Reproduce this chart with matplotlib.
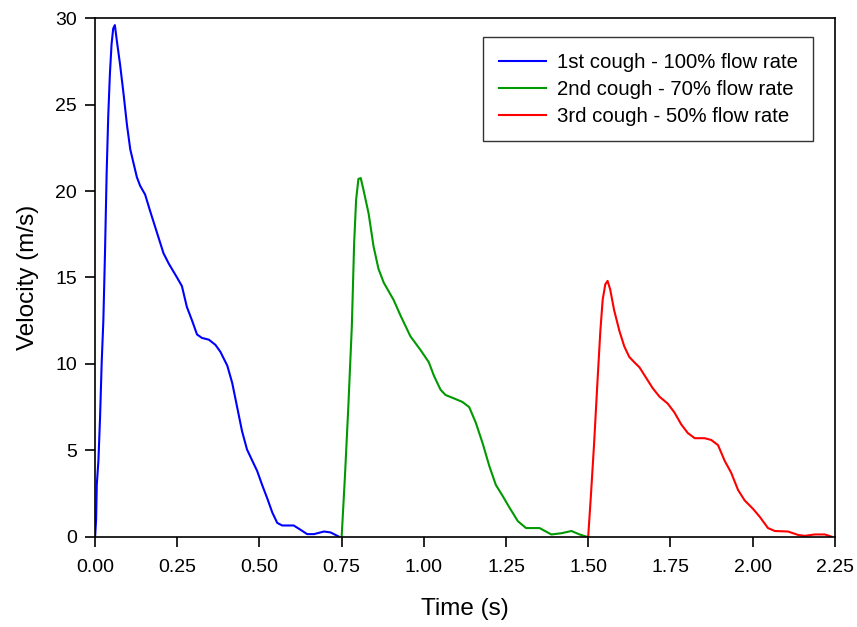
import matplotlib
matplotlib.use("Agg")
import matplotlib.pyplot as plt

plt.rcParams['font.family'] = ['Liberation Sans', 'DejaVu Sans']

# 1st cough - 100% flow rate
t1 = [0.0, 0.003, 0.005, 0.010, 0.015, 0.020, 0.025, 0.030, 0.035, 0.040, 0.045, 0.050,
      0.055, 0.060, 0.066, 0.076, 0.086, 0.097, 0.107, 0.117, 0.127, 0.137, 0.152, 0.168,
      0.188, 0.208, 0.224, 0.249, 0.264, 0.279, 0.295, 0.310, 0.325, 0.346, 0.366, 0.381,
      0.402, 0.417, 0.432, 0.447, 0.462, 0.478, 0.493, 0.508, 0.524, 0.539, 0.554, 0.569,
      0.604, 0.625, 0.645, 0.666, 0.696, 0.716, 0.742]
v1 = [0.0, 1.0, 3.0, 4.4, 6.9, 10.1, 12.5, 16.4, 21.0, 24.4, 26.8, 28.5,
      29.4, 29.6, 28.7, 27.3, 25.7, 23.8, 22.4, 21.6, 20.8, 20.3, 19.8, 18.8,
      17.6, 16.4, 15.8, 15.0, 14.5, 13.3, 12.5, 11.7, 11.5, 11.4, 11.1, 10.7,
      9.9, 8.9, 7.5, 6.1, 5.05, 4.4, 3.8, 3.0, 2.2, 1.4, 0.8, 0.65,
      0.65, 0.4, 0.15, 0.15, 0.3, 0.25, 0.0]

# 2nd cough - 70% flow rate
t2 = [0.750, 0.760, 0.770, 0.781, 0.788, 0.794, 0.801, 0.808, 0.816, 0.832, 0.847, 0.862,
      0.878, 0.893, 0.908, 0.929, 0.959, 0.990, 1.015, 1.031, 1.051, 1.066, 1.092, 1.117,
      1.138, 1.158, 1.179, 1.199, 1.219, 1.240, 1.260, 1.286, 1.311, 1.352, 1.388, 1.418,
      1.449, 1.474, 1.495]
v2 = [0.0, 3.5, 7.4, 12.2, 17.0, 19.5, 20.7, 20.75, 20.1, 18.7, 16.8, 15.5,
      14.7, 14.2, 13.7, 12.8, 11.6, 10.8, 10.1, 9.3, 8.5, 8.2, 8.0, 7.8,
      7.5, 6.6, 5.4, 4.1, 3.0, 2.35, 1.7, 0.9, 0.5, 0.5, 0.13, 0.2,
      0.33, 0.13, 0.0]

# 3rd cough - 50% flow rate
t3 = [1.500, 1.508, 1.518, 1.528, 1.537, 1.544, 1.552, 1.559, 1.567, 1.579, 1.595, 1.610,
      1.625, 1.640, 1.656, 1.676, 1.696, 1.717, 1.742, 1.762, 1.783, 1.803, 1.824, 1.854,
      1.874, 1.895, 1.915, 1.935, 1.956, 1.976, 2.002, 2.022, 2.047, 2.068, 2.108, 2.139,
      2.159, 2.189, 2.220, 2.241]
v3 = [0.0, 2.3, 5.4, 8.9, 11.9, 13.7, 14.6, 14.8, 14.3, 13.1, 11.9, 11.0,
      10.4, 10.1, 9.8, 9.2, 8.6, 8.1, 7.7, 7.2, 6.5, 6.0, 5.7, 5.7,
      5.6, 5.3, 4.4, 3.7, 2.7, 2.1, 1.6, 1.15, 0.5, 0.33, 0.3, 0.1,
      0.05, 0.13, 0.13, 0.0]

labels = ['1st cough - 100% flow rate', '2nd cough - 70% flow rate', '3rd cough - 50% flow rate']
colors = ['#0000ff', '#009900', '#ff0000']
x_ticks = [0.0, 0.25, 0.5, 0.75, 1.0, 1.25, 1.5, 1.75, 2.0, 2.25]
y_ticks = [0, 5, 10, 15, 20, 25, 30]

fig = plt.figure(figsize=(8.57, 6.27), dpi=100)
ax = fig.add_axes([0.111, 0.144, 0.863, 0.827])

for t, v, lab, c in zip([t1, t2, t3], [v1, v2, v3], labels, colors):
    ax.plot(t, v, color=c, lw=1.5, label=lab)

ax.set_xlim(0, 2.25)
ax.set_ylim(0, 30)
ax.set_xticks(x_ticks)
ax.set_xticklabels([f'{x:.2f}' for x in x_ticks])
ax.set_yticks(y_ticks)
ax.tick_params(direction='out', length=7, width=1.2, labelsize=14, colors='black', pad=6)
ax.tick_params(axis='x', pad=9)
for s in ax.spines.values():
    s.set_linewidth(1.2)

ax.set_xlabel('Time (s)', fontsize=17.5, labelpad=16)
ax.set_ylabel('Velocity (m/s)', fontsize=17.5, labelpad=12)

leg = ax.legend(loc='upper right', bbox_to_anchor=(0.971, 0.963), borderaxespad=0,
                fontsize=14.7, frameon=True, fancybox=False, edgecolor='black',
                handlelength=2.3, borderpad=0.75, labelspacing=0.4, handletextpad=0.55)
leg.get_frame().set_linewidth(1.0)

fig.savefig('out.png', dpi=100)
